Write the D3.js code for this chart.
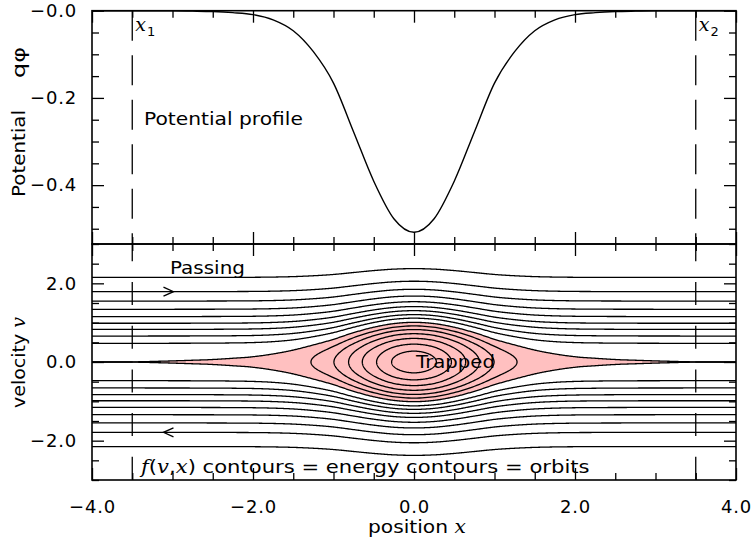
<!DOCTYPE html>
<html>
<head>
<meta charset="utf-8">
<script src="https://cdn.jsdelivr.net/npm/d3@7"></script>
<style>
  body { margin: 0; background: #fff; }
  text { font-family: "DejaVu Sans", sans-serif; fill: #000; }
  .math { font-family: "DejaVu Serif", serif; font-style: italic; }
</style>
</head>
<body>
<script>
// potential profile q*phi(x), every 0.25
var phiX = [-4.0, -3.75, -3.5, -3.25, -3.0, -2.75, -2.5, -2.25, -2.0, -1.75, -1.5, -1.25, -1.0, -0.75, -0.5, -0.25,
            0.0, 0.25, 0.5, 0.75, 1.0, 1.25, 1.5, 1.75, 2.0, 2.25, 2.5, 2.75, 3.0, 3.25, 3.5, 3.75, 4.0];
var phiValues = [0, 0, 0, -0.0001, -0.0004, -0.001, -0.002, -0.0045, -0.009, -0.021, -0.046, -0.094, -0.166, -0.278, -0.391, -0.477,
                 -0.508, -0.477, -0.391, -0.278, -0.166, -0.094, -0.046, -0.021, -0.009, -0.0045, -0.002, -0.001, -0.0004, -0.0001, 0, 0, 0];

// energy levels (E = v^2/2 + q phi) of the drawn orbits
var passingLevels = [0.113, 0.218, 0.344, 0.485, 0.667, 0.898, 1.20, 1.60, 2.31];
var trappedLevels = [-0.087, -0.168, -0.249, -0.328, -0.405, -0.47];
var separatrixLevel = 0;

// direction arrows on the passing orbits
var arrowX = [-3.05, -3.05];
var arrowLevel = [1.60, 1.60];
var arrowDir = [1, -1];

// x1 / x2 boundaries
var boundaryX = [-3.5, 3.5];
var boundaryNames = ["1", "2"];

// tick labels
var xTicks = [-4, -2, 0, 2, 4];
var xTickLabels = ["\u22124.0", "\u22122.0", "0.0", "2.0", "4.0"];
var phiTicks = [0, -0.2, -0.4];
var phiTickLabels = ["\u22120.0", "\u22120.2", "\u22120.4"];
var vTicks = [2, 0, -2];
var vTickLabels = ["2.0", "0.0", "\u22122.0"];

var svgWidth = 754, svgHeight = 546;
var left = 92, right = 736, top1 = 10.7, mid = 244, bottom = 480;

var svg = d3.select("body").append("svg")
  .attr("width", svgWidth)
  .attr("height", svgHeight);

var x = d3.scaleLinear().domain([-4, 4]).range([left, right]);
var yPhi = d3.scaleLinear().domain([-0.535, 0]).range([mid, top1]);
var yV = d3.scaleLinear().domain([-3, 3]).range([bottom, mid]);

// uniform Catmull-Rom through the read samples (same curve as d3.curveCatmullRom.alpha(0))
var step = phiX[1] - phiX[0];
function phiAt(xx) {
  var n = phiValues.length;
  var f = (xx - phiX[0]) / step;
  var i = Math.max(0, Math.min(n - 2, Math.floor(f)));
  var t = f - i;
  var p0 = phiValues[Math.max(0, i - 1)], p1 = phiValues[i], p2 = phiValues[i + 1], p3 = phiValues[Math.min(n - 1, i + 2)];
  return 0.5 * (2 * p1 + (-p0 + p2) * t + (2 * p0 - 5 * p1 + 4 * p2 - p3) * t * t + (-p0 + 3 * p1 - 3 * p2 + p3) * t * t * t);
}
function vAt(E, xx) { return Math.sqrt(Math.max(0, 2 * (E - phiAt(xx)))); }

var xs = d3.range(-4, 4.0001, 0.01);

// ---------- top panel: potential ----------
var topG = svg.append("g");
topG.append("path")
  .datum(phiX.map(function(d, i) { return [d, phiValues[i]]; }))
  .attr("fill", "none")
  .attr("stroke", "#000")
  .attr("stroke-width", 1.4)
  .attr("d", d3.line().x(function(d) { return x(d[0]); }).y(function(d) { return yPhi(d[1]); })
    .curve(d3.curveCatmullRom.alpha(0)));

// ---------- bottom panel: orbits ----------
var botG = svg.append("g");
var vLine = d3.line().x(function(d) { return x(d[0]); }).y(function(d) { return yV(d[1]); });

// trapped region fill
botG.append("path")
  .datum(xs)
  .attr("fill", "#ffc0c0")
  .attr("d", d3.area()
    .x(function(d) { return x(d); })
    .y0(function(d) { return yV(-vAt(separatrixLevel, d)); })
    .y1(function(d) { return yV(vAt(separatrixLevel, d)); }));

// passing orbits + separatrix, both branches
passingLevels.concat([separatrixLevel]).forEach(function(E) {
  [1, -1].forEach(function(s) {
    botG.append("path")
      .datum(xs.map(function(d) { return [d, s * vAt(E, d)]; }))
      .attr("fill", "none")
      .attr("stroke", "#000")
      .attr("stroke-width", 1.3)
      .attr("d", vLine);
  });
});

// trapped orbits
var closedLine = d3.line().x(function(d) { return x(d[0]); }).y(function(d) { return yV(d[1]); })
  .curve(d3.curveLinearClosed);
trappedLevels.forEach(function(E) {
  var lo = 0, hi = 4;
  for (var k = 0; k < 50; k++) {
    var m = (lo + hi) / 2;
    if (phiAt(m) < E) lo = m; else hi = m;
  }
  var xt = (lo + hi) / 2;
  var pts = d3.range(0, 240).map(function(i) {
    var th = 2 * Math.PI * i / 240;
    var xx = -xt * Math.cos(th);
    var s = Math.sin(th) >= 0 ? 1 : -1;
    return [xx, s * vAt(E, xx)];
  });
  botG.append("path")
    .datum(pts)
    .attr("fill", "none")
    .attr("stroke", "#000")
    .attr("stroke-width", 1.3)
    .attr("d", closedLine);
});

// arrows
arrowX.forEach(function(ax, i) {
  var px = x(ax), py = yV(arrowDir[i] * vAt(arrowLevel[i], ax));
  var dx = 5 * arrowDir[i];
  botG.append("path")
    .attr("fill", "none")
    .attr("stroke", "#000")
    .attr("stroke-width", 1.3)
    .attr("d", "M" + (px - dx) + "," + (py - 4.5) + "L" + (px + dx) + "," + py + "L" + (px - dx) + "," + (py + 4.5));
});

// dashed x1/x2 lines
boundaryX.forEach(function(bx, i) {
  svg.append("line")
    .attr("x1", x(bx)).attr("x2", x(bx))
    .attr("y1", top1).attr("y2", mid)
    .attr("stroke", "#000").attr("stroke-width", 1.3)
    .attr("stroke-dasharray", "30,14.5");
  svg.append("line")
    .attr("x1", x(bx)).attr("x2", x(bx))
    .attr("y1", mid).attr("y2", bottom)
    .attr("stroke", "#000").attr("stroke-width", 1.3)
    .attr("stroke-dasharray", "23,20.7")
    .attr("stroke-dashoffset", 5.7);
  var lab = svg.append("text").attr("x", x(bx) + 3).attr("y", 31);
  lab.append("tspan").attr("class", "math").attr("font-size", 19).text("x");
  lab.append("tspan").attr("font-size", 13).attr("dy", 5).attr("dx", 1).text(boundaryNames[i]);
});

// ---------- frames and ticks ----------
[[top1, mid], [mid, bottom]].forEach(function(p) {
  svg.append("rect")
    .attr("x", left).attr("y", p[0])
    .attr("width", right - left).attr("height", p[1] - p[0])
    .attr("fill", "none").attr("stroke", "#000").attr("stroke-width", 1.6);
});

function ticks(axis, tx, ty, values, size) {
  svg.append("g")
    .attr("transform", "translate(" + tx + "," + ty + ")")
    .call(axis.tickValues(values).tickSize(-size).tickFormat(""))
    .call(function(g) {
      g.select(".domain").remove();
      g.selectAll("line").attr("stroke-width", 1.3);
    });
}
function notIn(arr) { return function(d) { return arr.every(function(a) { return Math.abs(a - d) > 1e-9; }); }; }

var xMinor = x.ticks(16).filter(notIn(xTicks));
var phiMinor = yPhi.ticks(10).filter(notIn(phiTicks));
var vMinor = yV.ticks(12).filter(notIn(vTicks));

[top1, mid].forEach(function(yy) {
  ticks(d3.axisTop(x), 0, yy, xMinor, 7);
  ticks(d3.axisTop(x), 0, yy, xTicks, 12);
});
[mid, bottom].forEach(function(yy) {
  ticks(d3.axisBottom(x), 0, yy, xMinor, 7);
  ticks(d3.axisBottom(x), 0, yy, xTicks, 12);
});
ticks(d3.axisLeft(yPhi), left, 0, phiMinor, 7);
ticks(d3.axisLeft(yPhi), left, 0, phiTicks, 12);
ticks(d3.axisRight(yPhi), right, 0, phiMinor, 7);
ticks(d3.axisRight(yPhi), right, 0, phiTicks, 12);
ticks(d3.axisLeft(yV), left, 0, vMinor, 7);
ticks(d3.axisLeft(yV), left, 0, vTicks, 12);
ticks(d3.axisRight(yV), right, 0, vMinor, 7);
ticks(d3.axisRight(yV), right, 0, vTicks, 12);

// tick labels
function labels(axis, tx, ty, values, names, pad) {
  svg.append("g")
    .attr("transform", "translate(" + tx + "," + ty + ")")
    .call(axis.tickValues(values).tickSize(0).tickPadding(pad)
      .tickFormat(function(d, i) { return names[i]; }))
    .call(function(g) {
      g.select(".domain").remove();
      g.selectAll("text")
        .attr("font-family", "DejaVu Sans")
        .attr("font-size", 18)
        .attr("letter-spacing", 0.8)
        .attr("fill", "#000");
    });
}
labels(d3.axisLeft(yPhi), left, 0, phiTicks, phiTickLabels, 15);
labels(d3.axisLeft(yV), left, 0, vTicks, vTickLabels, 15);
labels(d3.axisBottom(x), 0, bottom, xTicks, xTickLabels, 20);

// ---------- texts ----------
// stretch a text to the width seen in the picture
function place(t, px, py, width, rot) {
  var w = t.node().getComputedTextLength();
  t.attr("transform", "translate(" + px + "," + py + ")" + (rot ? " rotate(-90)" : "") + " scale(" + (width / w) + ",1)");
  return t;
}

place(svg.append("text").attr("font-size", 17).text("Potential profile"), 144, 125, 159);
place(svg.append("text").attr("font-size", 17).text("Passing"), 170, 274, 75);
place(svg.append("text").attr("font-size", 17).text("Trapped"), 416, 368, 79);

var ft = svg.append("text").attr("font-size", 18);
ft.append("tspan").attr("class", "math").text("f");
ft.append("tspan").text("(");
ft.append("tspan").attr("class", "math").text("v");
ft.append("tspan").text(",");
ft.append("tspan").attr("class", "math").text("x");
ft.append("tspan").text(") contours = energy contours = orbits");
place(ft, 141, 473, 449);

var xl = svg.append("text").attr("font-size", 18);
xl.append("tspan").text("position ");
xl.append("tspan").attr("class", "math").text("x");
place(xl, 368, 533, 98);

place(svg.append("text").attr("font-size", 18).text("Potential"), 25, 197, 87, true);
place(svg.append("text").attr("font-size", 18).text("q\u03c6"), 25, 78, 31, true);

var vl = svg.append("text").attr("font-size", 18);
vl.append("tspan").text("velocity ");
vl.append("tspan").attr("class", "math").text("v");
place(vl, 25, 408, 91, true);
</script>
</body>
</html>
